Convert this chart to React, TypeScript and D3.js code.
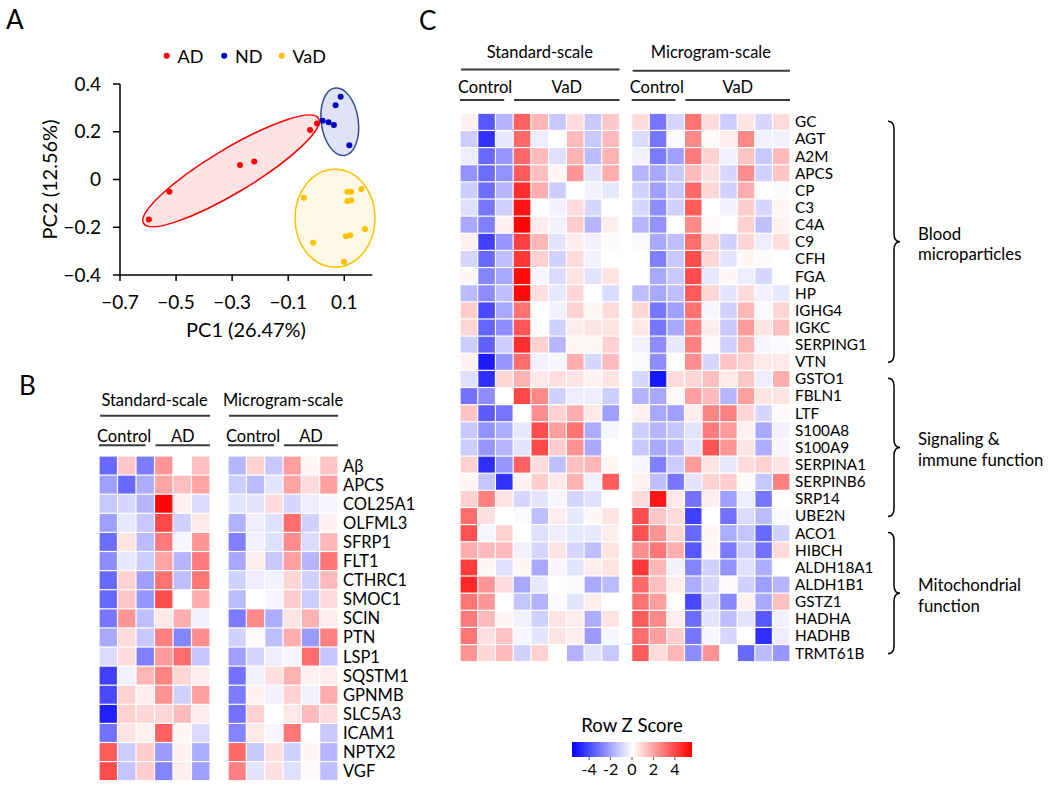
import React from 'react';
import * as d3 from 'd3';

const FONT = 'Lato, "Open Sans", sans-serif';

// ---------- Panel A: PCA scores ----------
const pcaGroups = ['AD', 'ND', 'VaD'];
const pcaColors = ['#ff0000', '#0000c0', '#ffc000'];
const adPoints = [[-0.597, -0.168], [-0.524, -0.051], [-0.272, 0.061], [-0.221, 0.075], [-0.022, 0.207], [0.003, 0.235]];
const ndPoints = [[0.023, 0.246], [0.044, 0.24], [0.063, 0.228], [0.069, 0.311], [0.087, 0.347], [0.118, 0.143]];
const vadPoints = [[-0.044, -0.076], [-0.011, -0.265], [0.099, -0.344], [0.106, -0.238], [0.121, -0.234], [0.111, -0.051],
  [0.125, -0.051], [0.111, -0.09], [0.125, -0.087], [0.161, -0.04], [0.174, -0.207]];
// ellipse centre (data), semi axes (px), rotation (deg)
const ellipseCentres = [[-0.304, 0.036], [0.084, 0.242], [0.067, -0.162]];
const ellipseAxes = [[102, 22, -31], [18.5, 34, -8], [40, 49, 0]];
const ellipseFills = ['#fde3e3', '#dfe3f5', '#fff8e6'];
const ellipseStrokes = ['#ff0000', '#2f528f', '#ffc000'];
const pcaXTicks = [-0.7, -0.5, -0.3, -0.1, 0.1];
const pcaYTicks = [-0.4, -0.2, 0, 0.2, 0.4];

// ---------- Panel B ----------
const genesB = ['Aβ', 'APCS', 'COL25A1', 'OLFML3', 'SFRP1', 'FLT1', 'CTHRC1', 'SMOC1', 'SCIN', 'PTN', 'LSP1',
  'SQSTM1', 'GPNMB', 'SLC5A3', 'ICAM1', 'NPTX2', 'VGF'];
const stdB = [
  [-3.3, 1.2, -2.9, 2.3, 0, 1.4],
  [-2.1, -3.3, -1.8, 2.0, 1.4, 2.0],
  [-1.2, -0.9, -1.6, 5.5, 0.3, -0.8],
  [-2.1, -0.5, -1.2, 4.0, -1.0, 0.5],
  [-3.2, 0.6, -1.5, 2.9, -0.2, 2.3],
  [-2.5, -0.5, -1.1, 2.0, -1.6, 2.9],
  [-3.3, 1.0, -2.1, 3.1, -1.4, 3.0],
  [-3.3, 1.2, -2.3, 3.9, 0, 1.8],
  [-3.0, 2.3, -1.4, 0.5, 1.8, -0.3],
  [-1.9, 0.8, -1.2, 2.8, -2.7, 2.5],
  [-0.8, 0.8, -2.8, 2.2, 3.2, -1.3],
  [-4.2, -0.3, 1.6, 2.7, 0.9, 0.4],
  [-4.0, 1.0, 0.4, 2.4, -1.0, 2.1],
  [-4.9, 1.0, 0.9, 0.9, 1.5, 0.4],
  [-3.1, 0.6, 0.3, 3.5, 0.2, -0.8],
  [3.6, -1.1, 1.1, -2.2, 0.3, -1.8],
  [3.9, -1.3, 1.1, -2.7, 0.4, -2.1],
];
const microB = [
  [-1.6, 1.0, -1.2, 2.1, 0.2, 1.3],
  [-1.1, -1.5, -0.6, 2.0, 0.8, 2.1],
  [-0.6, -0.6, 0.8, -0.9, -0.4, -0.2],
  [-1.7, -0.4, -0.7, 3.2, -1.0, 0.3],
  [-2.8, -0.3, -0.7, 2.5, -0.8, 1.6],
  [-1.9, 0.4, -1.2, 2.1, -1.6, 3.0],
  [-1.0, -0.4, -0.3, 0.9, -1.0, 1.5],
  [-1.5, 0, -0.2, 1.1, -1.1, 0.8],
  [-2.9, 2.6, -1.8, 0.6, 1.7, 0.4],
  [-1.0, 0.1, -1.4, 1.8, -2.2, 2.8],
  [-2.1, -0.9, -0.4, -0.2, 3.2, -1.3],
  [-3.1, -0.3, 0.7, 1.7, 0.3, 0.4],
  [-2.9, 0.3, -0.3, 1.0, -0.3, 1.8],
  [-3.1, 1.0, 0, 0.5, 1.5, 0.8],
  [-2.7, 0.5, -0.2, 3.0, 0, -1.2],
  [3.3, -1.2, 0.7, -1.0, 0.2, -1.6],
  [2.8, -0.6, 0.7, -0.7, 0.1, -1.4],
];
const groupsB = ['Control', 'AD'];

// ---------- Panel C ----------
const genesC = ['GC', 'AGT', 'A2M', 'APCS', 'CP', 'C3', 'C4A', 'C9', 'CFH', 'FGA', 'HP', 'IGHG4', 'IGKC', 'SERPING1', 'VTN',
  'GSTO1', 'FBLN1', 'LTF', 'S100A8', 'S100A9', 'SERPINA1', 'SERPINB6', 'SRP14', 'UBE2N',
  'ACO1', 'HIBCH', 'ALDH18A1', 'ALDH1B1', 'GSTZ1', 'HADHA', 'HADHB', 'TRMT61B'];
const stdC = [
  [0.3, -3.7, -1.7, 3.5, 1.6, -1.2, 0.8, -1.2, 1.2],
  [-1.1, -4.5, -0.5, 3.3, -0.4, 0, 1.5, -1.2, 1.5],
  [-0.4, -3.3, -2.3, 3.3, 1.5, -0.7, 1.7, -1.5, 1.7],
  [-2.4, -3.2, -2.4, 3.6, 1.4, 0.2, 2.3, -0.6, 1.8],
  [-1.1, -3.2, -1.6, 4.6, 1.8, -1.1, 0, -0.3, -0.5],
  [-0.7, -3.0, -1.0, 5.2, 0, -0.3, 0.8, -0.9, 0],
  [-1.9, -2.8, 0.3, 5.5, 0.4, -0.3, 1.1, -1.6, 0.4],
  [0.3, -4.2, -2.3, 4.2, 1.6, -0.6, 0.4, -0.3, 0.1],
  [-0.9, -3.3, -1.4, 4.4, 1.0, -1.0, 0.8, -0.3, 0],
  [0.2, -2.7, -1.9, 5.4, -0.2, -0.8, 0.6, -0.6, 0.6],
  [-1.5, -2.5, -1.4, 5.4, 0.7, -0.5, 0.9, 0, -0.8],
  [1.1, -4.0, -1.9, 3.1, 0, -0.3, 1.0, 0.2, 0.8],
  [0.9, -3.4, -2.5, 3.7, 0, -1.0, 0.4, 0.6, 0.6],
  [-1.1, -3.5, -1.1, 4.6, 1.0, -1.6, 0.2, 0.2, 1.0],
  [0.3, -5.0, -2.3, 3.2, -0.3, -0.2, 1.8, -0.9, 1.5],
  [-0.7, -4.6, 0.9, 1.7, 0.5, 0.7, 0.6, 0.3, 0.6],
  [-3.1, -2.5, 0, 4.0, 2.6, -1.0, -0.4, -0.4, -1.1],
  [1.3, -3.6, -3.0, 0, 2.5, 1.0, 1.8, 0.5, -2.1],
  [-1.2, -2.4, -1.8, -0.5, 3.9, 2.1, 3.1, -1.8, -0.2],
  [-1.1, -2.3, -1.6, -0.6, 4.0, 1.1, 2.4, -1.9, 0],
  [1.0, -4.6, -2.3, 3.5, 0.8, -1.4, 1.4, 1.6, 0.2],
  [0.2, -1.3, -4.5, 0.3, 1.1, 0.5, 1.7, -0.3, 3.6],
  [1.0, 2.8, 0.6, -0.9, -0.6, -0.2, -0.9, -0.7, 0],
  [3.2, 0.7, 0, -0.1, -1.4, 0.4, -0.5, 0.2, 0.6],
  [3.8, -0.2, 1.0, 0, -0.7, -0.4, -0.5, -0.5, 0.4],
  [1.8, 1.5, 1.5, -0.3, -0.9, 0.6, -0.9, -1.4, 0.6],
  [4.3, 0.2, -0.7, 0.2, -1.9, -0.2, -0.6, 0.4, 0.6],
  [4.7, 2.3, 0.8, -1.9, -0.5, 0, -0.1, -1.9, -1.5],
  [3.0, 2.3, 0, -1.3, -1.7, -0.1, -0.6, 0.4, 0],
  [2.9, 1.5, 0.2, -0.3, -1.0, 0.6, 0.4, -1.8, 0.6],
  [3.0, 0.7, 1.3, -0.2, -0.6, 0.6, 0.4, -2.2, -0.2],
  [2.3, 0.9, 1.5, -1.0, 1.0, 0, -1.7, -0.6, -1.2],
];
const microC = [
  [0.8, -3.0, -0.9, 3.1, 0.8, -1.1, 0.6, -0.9, 0.8],
  [-0.8, -3.0, -0.1, 2.6, 0.1, 0.4, 2.6, -0.3, -0.3],
  [-0.3, -2.9, -2.1, 2.9, 1.0, -0.3, 1.3, -1.2, 1.5],
  [-1.6, -1.9, -1.2, 1.5, 0.7, -0.9, 2.5, -1.0, 1.3],
  [-1.0, -2.1, -1.2, 3.3, 0.9, -1.0, 1.8, 0, -0.1],
  [-0.9, -2.5, -1.0, 3.6, 0, -0.3, 1.1, -0.9, 0.2],
  [-1.6, -2.4, 0, 2.6, 0.1, 0, 1.0, -1.4, 0.3],
  [-0.1, -1.9, -1.4, 3.2, 1.0, -1.0, 0.9, -0.4, 0.7],
  [0, -2.8, -1.2, 3.9, 0.9, -0.6, 0.2, 0.1, 0],
  [0, -1.9, -1.2, 3.9, -0.5, 0.2, -0.4, -0.9, 0],
  [-1.4, -1.9, -1.4, 3.6, 0.9, -0.6, 0.8, -0.3, -0.5],
  [0.9, -3.0, -2.1, 3.1, -0.2, -1.0, 1.6, -0.1, 0.9],
  [0.5, -3.0, -1.9, 2.8, 0.4, -1.2, 2.2, 0.6, 1.4],
  [-0.3, -2.5, -0.5, 2.8, 0.1, -1.0, 1.6, -0.2, -0.1],
  [-0.1, -2.5, 0, 2.5, -0.9, 1.3, 1.0, 0.5, 0.5],
  [-0.9, -5.1, 0.8, 0.9, 1.4, 0.5, 1.2, -0.4, 1.8],
  [-1.7, -1.9, 0.1, 2.1, 1.5, -1.6, 2.1, 0.6, 0.6],
  [0.3, -1.9, -2.1, 0.4, 2.7, 2.8, 0.9, -0.9, 0.1],
  [-1.1, -1.6, -1.3, -0.6, 2.9, 2.2, 0.3, -1.9, -0.3],
  [-1.2, -1.9, -1.6, -0.6, 3.8, 2.3, 0.6, -1.8, -0.2],
  [-0.2, -2.8, -1.1, 2.2, 0.6, -0.5, 0.8, 1.0, 0.6],
  [0.3, -1.4, -3.0, -0.6, 1.0, 1.1, 0.1, -1.2, 2.8],
  [0.8, 5.1, 0.5, -3.1, 0.4, -2.1, -0.4, -3.0, 0],
  [3.9, 1.2, 0.8, -4.2, 0, -3.1, -0.8, -1.5, -0.1],
  [3.8, 2.3, 0.9, -3.3, 0.2, -1.8, -1.3, -3.3, -1.0],
  [2.5, 3.0, 1.8, -3.7, 0.2, -2.9, -1.1, -3.1, 0.8],
  [4.4, 1.6, -0.3, -2.7, -1.0, -2.4, -0.7, -1.8, 0],
  [3.3, 1.4, 0.4, -1.8, -0.9, 0.1, -1.0, -2.1, -1.6],
  [3.1, 2.1, 0, -4.0, -0.9, -2.6, 0.3, -1.9, 1.4],
  [3.6, 2.6, 0.4, -3.2, -0.6, -1.4, -0.6, -3.7, -0.3],
  [3.2, 2.1, 1.1, -3.0, -0.2, -0.9, 0, -4.6, -0.4],
  [3.6, 0.8, 1.6, -2.5, 2.4, 0, -3.3, -1.5, -2.3],
];
const groupsC = ['Control', 'VaD'];
const scaleTitles = ['Standard-scale', 'Microgram-scale'];
const funcGroups = [['Blood', 'microparticles'], ['Signaling &', 'immune function'], ['Mitochondrial', 'function']];
const funcGroupSizes = [15, 9, 8];
const zTicks = [-4, -2, 0, 2, 4];

const color = d3.scaleLinear<string>().domain([-5.6, 0, 5.6]).range(['#0000ff', '#ffffff', '#ff0000']).clamp(true);

function HeatBlock({ values, genes, x0, x1, y0, y1, groups, title, titleY, lineY, groupY, groupLineY, fs }: any) {
  const nCols = values[0].length;
  const xs = d3.scaleBand<number>().domain(d3.range(nCols)).range([x0, x1]);
  const ys = d3.scaleBand<string>().domain(genes).range([y0, y1]);
  const bw = xs.bandwidth();
  const nCtrl = 3;
  const split = x0 + nCtrl * bw;
  return (
    <g>
      {values.map((row: number[], i: number) =>
        row.map((v, j) => (
          <rect key={`${i}-${j}`} x={xs(j)! + 0.6} y={ys(genes[i])! + 0.6}
            width={bw - 1.2} height={ys.bandwidth() - 1.2} fill={color(v)} />
        )))}
      <text x={(x0 + x1) / 2} y={titleY} textAnchor="middle" fontSize={fs}>{title}</text>
      <line x1={x0 + 1} x2={x1} y1={lineY} y2={lineY} stroke="#3a3a3a" strokeWidth={2} />
      <text x={x0 - 2} y={groupY} fontSize={fs}>{groups[0]}</text>
      <line x1={x0} x2={split - 9} y1={groupLineY} y2={groupLineY} stroke="#3a3a3a" strokeWidth={2} />
      <text x={(split + 1 + x1) / 2} y={groupY} textAnchor="middle" fontSize={fs}>{groups[1]}</text>
      <line x1={split + 1} x2={x1} y1={groupLineY} y2={groupLineY} stroke="#3a3a3a" strokeWidth={2} />
    </g>
  );
}

function brace(x0: number, ya: number, yb: number) {
  const m = (ya + yb) / 2;
  const w = 6;
  const p = d3.path();
  p.moveTo(x0, ya);
  p.quadraticCurveTo(x0 + w, ya, x0 + w, ya + 8);
  p.lineTo(x0 + w, m - 8);
  p.quadraticCurveTo(x0 + w, m, x0 + 2 * w, m);
  p.quadraticCurveTo(x0 + w, m, x0 + w, m + 8);
  p.lineTo(x0 + w, yb - 8);
  p.quadraticCurveTo(x0 + w, yb, x0, yb);
  return p.toString();
}

export default function App() {
  // Panel A scales
  const x = d3.scaleLinear().domain([-0.7, 0.2]).range([120, 372.3]);
  const y = d3.scaleLinear().domain([-0.4, 0.4]).range([275, 84]);
  const pointSets = [adPoints, ndPoints, vadPoints];

  // heatmap rows
  const yC = d3.scaleBand<string>().domain(genesC).range([113.3, 661.7]);
  const yB = d3.scaleBand<string>().domain(genesB).range([456, 780.7]);
  const starts = d3.cumsum([0, ...funcGroupSizes]);

  const zx = d3.scaleLinear().domain([-5.6, 5.6]).range([572, 692]);

  return (
    <svg width={1050} height={791} style={{ display: 'block', position: 'absolute', left: 0, top: 0 }}
      fontFamily={FONT} fill="#000">
      <rect width={1050} height={791} fill="#fff" />
      {/* Panel labels */}
      <text x={6} y={29} fontSize={26}>A</text>
      <text x={19} y={395} fontSize={26}>B</text>
      <text x={419} y={30} fontSize={26}>C</text>

      {/* ---- Panel A ---- */}
      {pcaGroups.map((g, i) => (
        <g key={g}>
          <circle cx={166.7 + i * 57.5} cy={55.7} r={3} fill={pcaColors[i]} />
          <text x={177.5 + i * 57.5} y={62.5} fontSize={18}>{g}</text>
        </g>
      ))}
      {ellipseCentres.map((c, i) => {
        const cx = x(c[0]);
        const cy = y(c[1]);
        return (
          <ellipse key={i} cx={cx} cy={cy} rx={ellipseAxes[i][0]} ry={ellipseAxes[i][1]}
            transform={`rotate(${ellipseAxes[i][2]} ${cx} ${cy})`}
            fill={ellipseFills[i]} stroke={ellipseStrokes[i]} strokeWidth={1.5} />
        );
      })}
      {pointSets.map((pts, i) => pts.map((p, j) => (
        <circle key={`${i}-${j}`} cx={x(p[0])} cy={y(p[1])} r={3} fill={pcaColors[i]} />
      )))}
      <line x1={x(-0.7)} x2={x(-0.7)} y1={y(0.4)} y2={y(-0.4)} stroke="#000" strokeWidth={1.5} />
      <line x1={x(-0.7)} x2={x(0.2)} y1={y(-0.4)} y2={y(-0.4)} stroke="#000" strokeWidth={1.5} />
      {pcaYTicks.map(t => (
        <g key={t}>
          <line x1={x(-0.7) - 7} x2={x(-0.7)} y1={y(t)} y2={y(t)} stroke="#000" strokeWidth={1.5} />
          <text x={x(-0.7) - 19} y={y(t) + 6.5} textAnchor="end" fontSize={19}>{t === 0 ? '0' : d3.format('.1f')(t)}</text>
        </g>
      ))}
      {pcaXTicks.map(t => (
        <g key={t}>
          <line x1={x(t)} x2={x(t)} y1={y(-0.4)} y2={y(-0.4) + 6} stroke="#000" strokeWidth={1.5} />
          <text x={x(t)} y={309} textAnchor="middle" fontSize={19}>{d3.format('.1f')(t)}</text>
        </g>
      ))}
      <text x={246} y={337} textAnchor="middle" fontSize={20}>PC1 (26.47%)</text>
      <text transform={`translate(57,${y(0)}) rotate(-90)`} textAnchor="middle" fontSize={20}>PC2 (12.56%)</text>

      {/* ---- Panel B ---- */}
      <HeatBlock values={stdB} genes={genesB} x0={99} x1={210} y0={456} y1={780.7} groups={groupsB}
        title={scaleTitles[0]} titleY={406} lineY={415.7} groupY={441.5} groupLineY={445.3} fs={16.5} />
      <HeatBlock values={microB} genes={genesB} x0={228} x1={338} y0={456} y1={780.7} groups={groupsB}
        title={scaleTitles[1]} titleY={406} lineY={415.7} groupY={441.5} groupLineY={445.3} fs={16.5} />
      {genesB.map(g => (
        <text key={g} x={343} y={yB(g)! + yB.bandwidth() / 2 + 6} fontSize={16.5}>{g}</text>
      ))}

      {/* ---- Panel C ---- */}
      <HeatBlock values={stdC} genes={genesC} x0={460} x1={619.5} y0={113.3} y1={661.7} groups={groupsC}
        title={scaleTitles[0]} titleY={58.3} lineY={69.5} groupY={93.3} groupLineY={100} fs={16.5} />
      <HeatBlock values={microC} genes={genesC} x0={631.7} x1={790} y0={113.3} y1={661.7} groups={groupsC}
        title={scaleTitles[1]} titleY={58.3} lineY={70.7} groupY={93.3} groupLineY={100} fs={16.5} />
      {genesC.map(g => (
        <text key={g} x={795} y={yC(g)! + yC.bandwidth() / 2 + 5.4} fontSize={15.3}>{g}</text>
      ))}
      {funcGroups.map((lines, i) => {
        const ya = yC(genesC[starts[i]])! + 8;
        const yb = yC(genesC[starts[i + 1] - 1])! + yC.bandwidth() - 8;
        const m = (ya + yb) / 2;
        return (
          <g key={i}>
            <path d={brace(888, ya, yb)} fill="none" stroke="#000" strokeWidth={1.5} />
            <text x={918} y={m - 2} fontSize={16.8}>{lines[0]}</text>
            <text x={918} y={m + 18.5} fontSize={16.8}>{lines[1]}</text>
          </g>
        );
      })}

      {/* Colour key */}
      <defs>
        <linearGradient id="zgrad" x1="0" x2="1" y1="0" y2="0">
          <stop offset="0%" stopColor={color(-5.6)} />
          <stop offset="50%" stopColor={color(0)} />
          <stop offset="100%" stopColor={color(5.6)} />
        </linearGradient>
      </defs>
      <text x={632} y={732} textAnchor="middle" fontSize={18.5}>Row Z Score</text>
      <rect x={zx(-5.6)} y={742} width={zx(5.6) - zx(-5.6)} height={15} fill="url(#zgrad)" />
      {zTicks.map(t => (
        <g key={t}>
          <line x1={zx(t)} x2={zx(t)} y1={757} y2={760} stroke="#555" />
          <text x={zx(t)} y={775} textAnchor="middle" fontSize={16}>{t}</text>
        </g>
      ))}
    </svg>
  );
}
